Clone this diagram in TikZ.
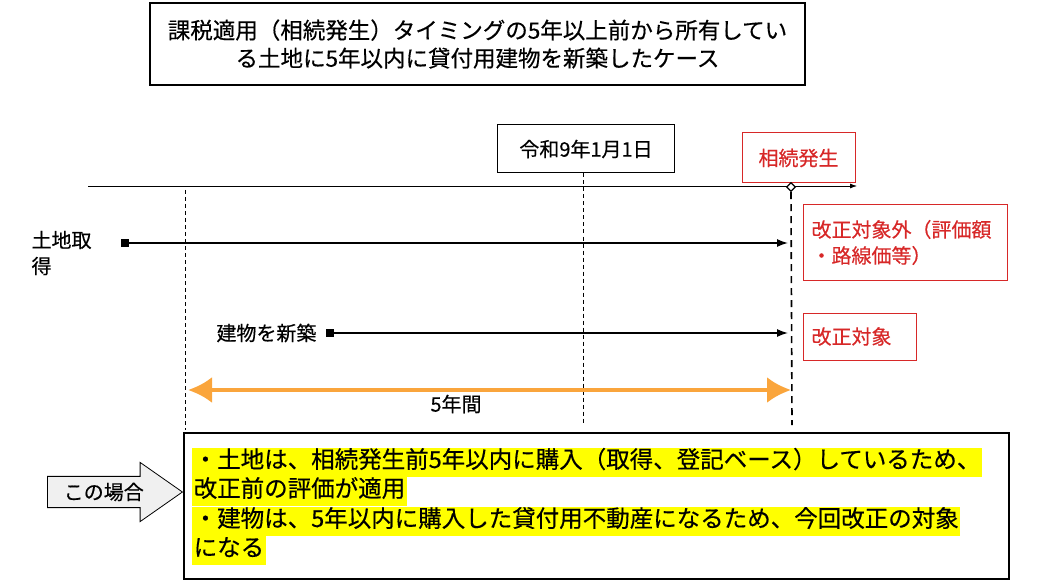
\documentclass[tikz,border=0pt]{standalone}
\usepackage{fontspec}
\setmainfont{Noto Sans CJK JP}[FakeBold=0.4]
\usetikzlibrary{arrows.meta,positioning,shapes.geometric,shapes.arrows}
\definecolor{jpred}{RGB}{215,40,40}
\definecolor{jporange}{RGB}{250,165,60}
\definecolor{jpyellow}{RGB}{255,255,0}

\begin{document}
\begin{tikzpicture}[
  x=1pt,y=-1pt,
  every node/.style={font=\fontsize{20}{26}\selectfont},
  titlebox/.style={draw,line width=1.2pt,minimum width=655pt,minimum height=82pt,align=center,font=\fontsize{22.5}{28}\selectfont},
  datebox/.style={draw,line width=1pt,minimum width=177pt,minimum height=48pt},
  redbox/.style={draw=jpred,line width=1pt,text=jpred,align=left,inner sep=8pt,anchor=west},
  sqmark/.style={fill=black,inner sep=0pt,minimum size=8pt},
  arr/.style={-{Latex[length=11pt,width=8pt]},line width=1.5pt},
  bigarr/.style={{Latex[length=24pt,width=26pt]}-{Latex[length=24pt,width=26pt]},line width=4pt,draw=jporange},
  vdash/.style={line width=0.8pt,dash pattern=on 4pt off 3pt},
  hilite/.style={fill=jpyellow,inner sep=1.5pt,anchor=west,text height=19pt,text depth=7pt,font=\fontsize{23.5}{28}\selectfont}
]
\useasboundingbox (0,0) rectangle (1040,585);
% title
\node[titlebox] (title) at (477.5,44) {課税適用（相続発生）タイミングの5年以上前から所有してい\\る土地に5年以内に貸付用建物を新築したケース};
% time axis
\coordinate (tl0) at (88,186);
\coordinate (tl1) at (857,186);
\draw[-{Latex[length=7pt,width=5pt]},line width=0.8pt] (tl0) -- (tl1);
\node[datebox] (date) at (586,149) {令和9年1月1日};
\node[draw=jpred,line width=1pt,text=jpred,minimum width=113pt,minimum height=50pt] (inherit) at (798.5,158) {相続発生};
\node[diamond,draw,fill=white,inner sep=0pt,minimum size=9pt,line width=1.2pt] (dia) at (791,187) {};
% vertical guides
\coordinate (datebot) at (583,425);
\coordinate (ltop) at (185,190);
\coordinate (lbot) at (185,430);
\coordinate (rbot) at (792,425);
\draw[vdash] (date.south -| datebot) -- (datebot);
\draw[vdash] (ltop) -- (lbot);
\draw[line width=1.6pt,dash pattern=on 7pt off 5pt] (dia.south) -- (rbot);
% land
\node[align=left,anchor=west] (landlbl) at (28,253) {土地取\\得};
\node[sqmark] (sq1) at (125,243) {};
\coordinate (e1) at (788,243);
\draw[arr] (sq1.center) -- (e1);
\node[redbox,text width=188pt,minimum height=75pt] (outside) at (803,242.5) {改正対象外（評価額\\・路線価等）};
% building
\node[anchor=east] (bldlbl) at (320,333) {建物を新築};
\node[sqmark] (sq2) at (330,333) {};
\coordinate (e2) at (788,333);
\draw[arr] (sq2.center) -- (e2);
\node[redbox,text width=97pt,minimum height=47pt] (target) at (803,336.5) {改正対象};
% five years
\coordinate (o0) at (188,390);
\coordinate (o1) at (791,390);
\draw[bigarr] (o0) -- (o1);
\node (five) at (456,404) {5年間};
% summary
\node[single arrow,draw,fill=gray!12,line width=0.8pt,anchor=west,minimum height=135pt,
  single arrow head extend=14pt,single arrow tip angle=70,inner sep=6pt] (case) at (47,492) {この場合};
\node[draw,line width=1.5pt,minimum width=825pt,minimum height=146pt,anchor=north west,inner sep=0pt] (note) at (183,432) {};
\node[hilite] (n1) at (192,462) {・土地は、相続発生前5年以内に購入（取得、登記ベース）しているため、};
\node[hilite] (n2) at (192,491) {改正前の評価が適用};
\node[hilite] (n3) at (192,521) {・建物は、5年以内に購入した貸付用不動産になるため、今回改正の対象};
\node[hilite] (n4) at (192,550) {になる};
\end{tikzpicture}
\end{document}
